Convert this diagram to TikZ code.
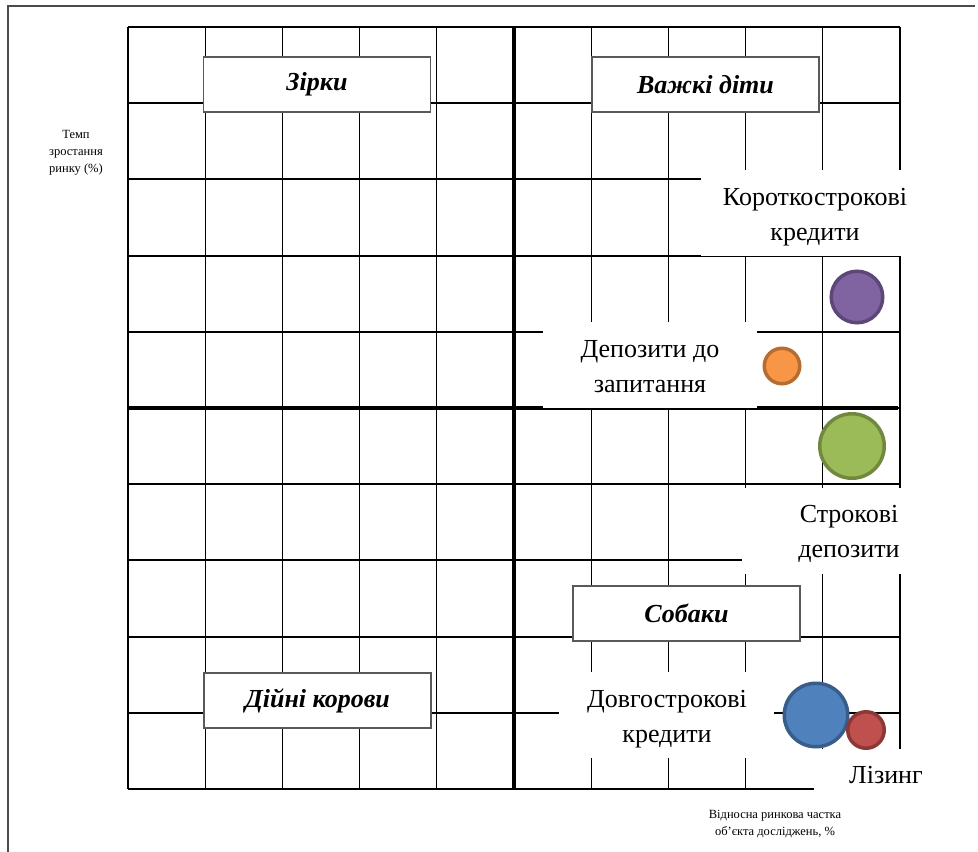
\documentclass[tikz,border=0pt]{standalone}
\usepackage{fontspec}
\setmainfont{Liberation Serif}
\definecolor{cPurF}{RGB}{128,100,162}\definecolor{cPurD}{RGB}{92,71,118}
\definecolor{cOrF}{RGB}{247,150,70}\definecolor{cOrD}{RGB}{182,109,49}
\definecolor{cGrF}{RGB}{155,187,89}\definecolor{cGrD}{RGB}{113,137,63}
\definecolor{cBlF}{RGB}{79,129,189}\definecolor{cBlD}{RGB}{56,93,138}
\definecolor{cReF}{RGB}{192,80,77}\definecolor{cReD}{RGB}{140,56,54}
\tikzset{
  vline/.style={line width=1.1pt, black},
  hline/.style={line width=2pt, black},
  axisline/.style={line width=4pt, black},
  mask/.style={fill=white},
  catbox/.style={draw=black!65, line width=1.3pt, fill=white, minimum width=227pt, minimum height=55pt, inner sep=0pt,
     font=\fontsize{26}{30}\selectfont\bfseries\itshape},
  bigtext/.style={align=center, inner sep=0pt, font=\fontsize{26}{35}\selectfont},
  smalltext/.style={align=center, inner sep=0pt, font=\fontsize{12.5}{17}\selectfont},
  bubble/.style={circle, line width=3.5pt, inner sep=0pt}
}
\begin{document}
\begin{tikzpicture}[x=1pt,y=-1pt]
\useasboundingbox (0,0) rectangle (978,852);
\fill[white] (0,0) rectangle (978,852);
% frame
\draw[line width=1.2pt, black!70] (975,6) -- (8,6) -- (8,852);
% grid
\foreach \i in {0,...,10} \draw[vline] ({128+77.2*\i},27) -- ({128+77.2*\i},789);
\foreach \j in {0,...,10} \draw[hline] (128,{27+76.2*\j}) -- (900,{27+76.2*\j});
\draw[axisline] (514,27) -- (514,789);
\draw[axisline] (128,408) -- (898,408);
% masks behind labels
\fill[mask] (701,170) rectangle (906,256);
\fill[mask] (543,322) rectangle (757,408);
\fill[mask] (742,488) rectangle (906,574);
\fill[mask] (559,672) rectangle (774,758);
\fill[mask] (814,749) rectangle (930,800);
% category boxes
\node[catbox] (stars) at (317,84.5) {Зірки};
\node[catbox] (kids) at (705.5,84.5) {Важкі діти};
\node[catbox] (dogs) at (686.5,613.5) {Собаки};
\node[catbox] (cows) at (317.5,700.5) {Дійні корови};
% bubbles
\node[bubble, fill=cPurF, draw=cPurD, minimum size=51.5pt] (bshort) at (857,297) {};
\node[bubble, fill=cOrF, draw=cOrD, minimum size=35.5pt] (bdemand) at (782,366) {};
\node[bubble, fill=cGrF, draw=cGrD, minimum size=64.5pt] (bterm) at (852,446) {};
\node[bubble, fill=cBlF, draw=cBlD, minimum size=63.5pt] (blong) at (816,715) {};
\node[bubble, fill=cReF, draw=cReD, minimum size=36.5pt] (blease) at (866,730) {};
% labels
\node[bigtext] (tshort) at (815,217.5) {Короткострокові\\кредити};
\node[bigtext] (tdemand) at (650,366.5) {Депозити до\\запитання};
\node[bigtext] (tterm) at (849,533.5) {Строкові\\депозити};
\node[bigtext] (tlong) at (667,719) {Довгострокові\\кредити};
\node[bigtext] (tlease) at (886,775) {Лізинг};
% axis titles
\node[smalltext] (ylab) at (76,153) {Темп\\зростання\\ринку (\%)};
\node[smalltext] (xlab) at (775,824) {Відносна ринкова частка\\об’єкта досліджень, \%};
\end{tikzpicture}
\end{document}
